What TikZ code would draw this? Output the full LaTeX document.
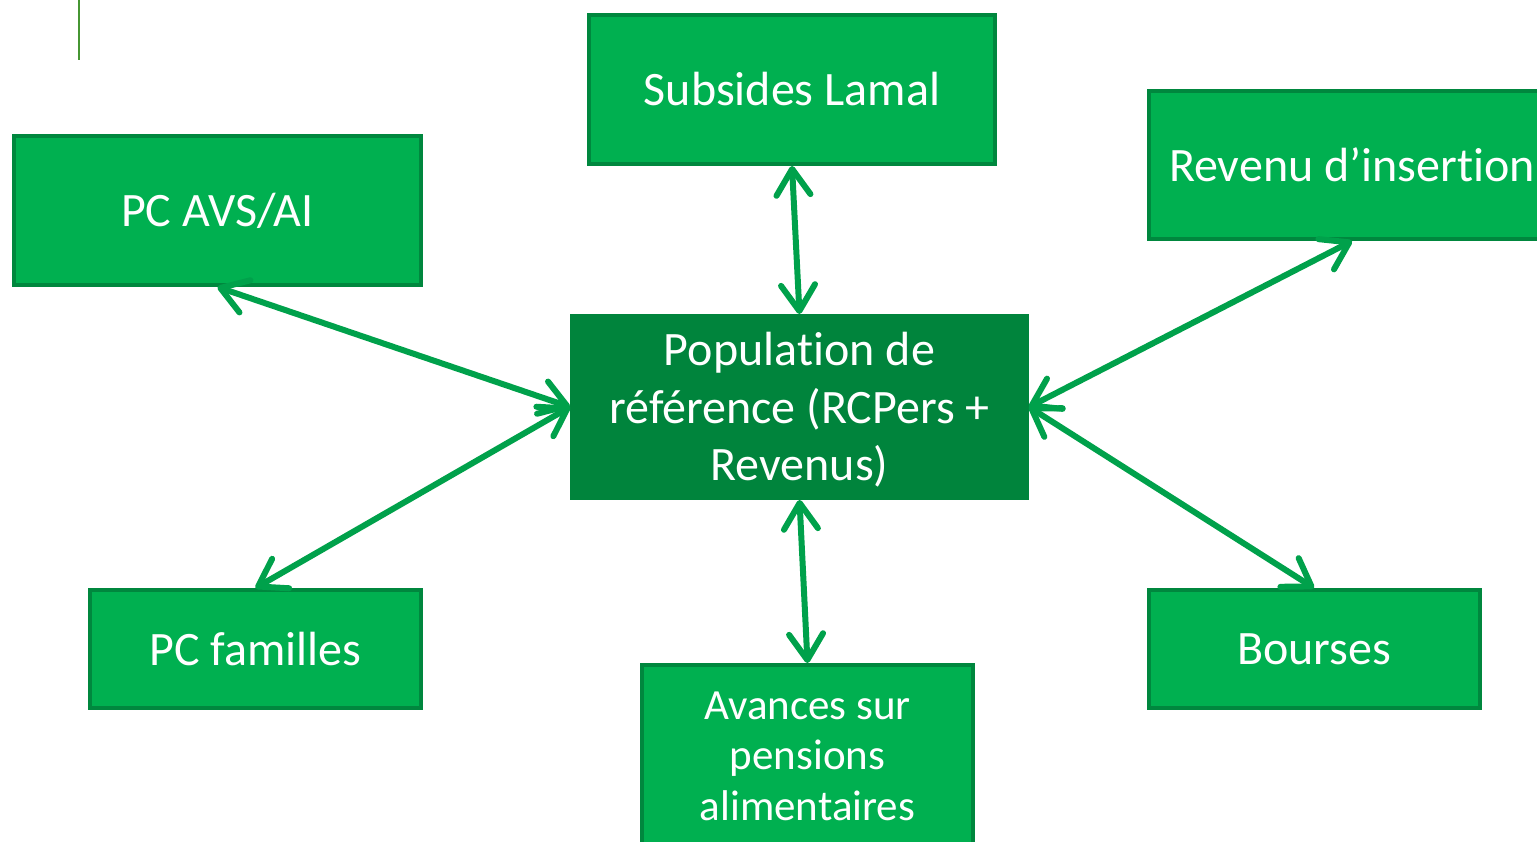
\documentclass[tikz,border=0pt]{standalone}
\usepackage{fontspec}
\setmainfont{Carlito}[RawFeature={-liga;-clig;-calt;-dlig}]
\usepackage{tikz}
\usetikzlibrary{arrows.meta}

\definecolor{boxgreen}{RGB}{0,176,80}
\definecolor{edgegreen}{RGB}{0,135,62}
\definecolor{midgreen}{RGB}{0,132,60}
\definecolor{arrowgreen}{RGB}{0,161,75}
\definecolor{rulegreen}{RGB}{70,150,50}

\tikzset{
  boite/.style={draw=edgegreen, fill=boxgreen, line width=4pt, inner sep=0pt,
    text=white, align=center, font=\fontsize{48}{50}\selectfont},
  centre/.style={boite, draw=midgreen, fill=midgreen,
    font=\fontsize{48}{57.5}\selectfont},
  lien/.style={arrowgreen, line width=6pt, line cap=round,
    {Straight Barb[round,length=26pt,width=34pt]}-{Straight Barb[round,length=26pt,width=34pt]}}
}

\begin{document}
\begin{tikzpicture}[x=1pt, y=-1pt]
			\useasboundingbox (0,0) rectangle (1537,842);
			\clip (0,0) rectangle (1537,842);

			\draw[rulegreen, line width=2.5pt] (79,0)--(79,60);

			\node[centre, minimum width=455, minimum height=182] (pop) at (799.5,407){\raisebox{-3pt}[\height][\depth]{\parbox{420pt}{\centering Popula\kern0pt tion de\\référence (RCPers +\\Revenus)}}};

			\node[boite, minimum width=406, minimum height=149] (lamal) at (792,89.5){Subsides Lamal};
			\node[boite, minimum width=407, minimum height=149] (pcavs) at (217.5,210.5){PC AVS/AI};
			\node[boite, minimum width=406, minimum height=148] (ris) at (1352,165){Revenu d’inser\kern0pt tion};

			\node[boite, minimum width=331, minimum height=118] (pcfam) at (255.5,649){PC familles};
			\node[boite, minimum width=331, minimum height=118] (bourses) at (1314,649){Bourses};
			\node[boite, minimum width=331, minimum height=182, font=\fontsize{43}{50.5}\selectfont] (avances) at (807.5,756){Avances sur\\pensions\\alimentaires};

			\draw[lien] (lamal.south)--(pop.north);
			\draw[lien] (pcavs.south)--(pop.west);
			\draw[lien] (pcfam.north)--(pop.west);
			\draw[lien] (ris.south)--(pop.east);
			\draw[lien] (bourses.north)--(pop.east);
			\draw[lien] (pop.south)--(avances.north);
		\end{tikzpicture}
\end{document}
